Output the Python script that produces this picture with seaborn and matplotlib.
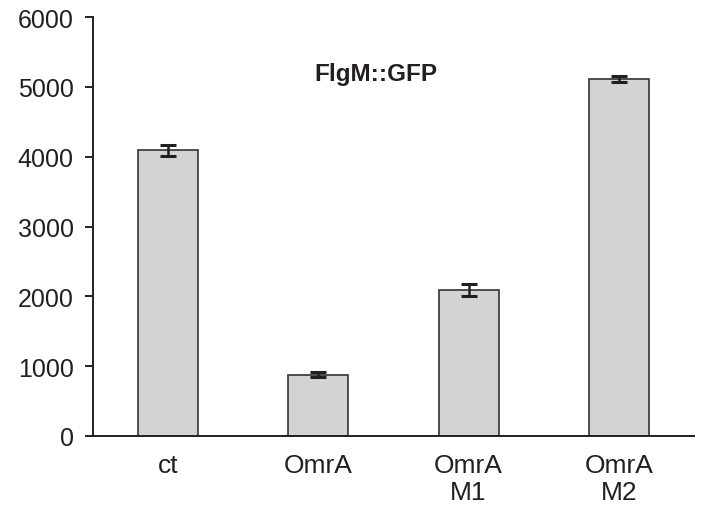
import matplotlib
matplotlib.use("Agg")
import matplotlib.pyplot as plt
import seaborn as sns
import pandas as pd

# values
categories = ["ct", "OmrA", "OmrA\nM1", "OmrA\nM2"]
values = [4090, 880, 2090, 5110]
errors = [80, 30, 85, 40]
yticks = [0, 1000, 2000, 3000, 4000, 5000, 6000]

sns.set_theme(style="white")
plt.rcParams["font.family"] = ["Liberation Sans", "DejaVu Sans"]

df = pd.DataFrame({"group": categories, "value": values})

fig = plt.figure(figsize=(7.03, 5.06), dpi=100)
ax = fig.add_axes([93 / 703, 1 - 437 / 506, (694 - 93) / 703, (437 - 18) / 506])

sns.barplot(data=df, x="group", y="value", color="#d2d3d5", saturation=1,
            width=0.4, edgecolor="#333333", linewidth=1.2, errorbar=None, ax=ax)
ax.errorbar(range(len(values)), values, yerr=errors, fmt="none",
            ecolor="#231f20", elinewidth=1.8, capsize=5.5, capthick=2.2)

ax.set_ylim(0, 6000)
ax.set_xlim(-0.5, len(categories) - 0.5)
ax.set_yticks(yticks)
ax.set_xlabel("")
ax.set_ylabel("")

for side in ("top", "right"):
    ax.spines[side].set_visible(False)
for side in ("left", "bottom"):
    ax.spines[side].set_color("#231f20")
    ax.spines[side].set_linewidth(1.4)

ax.tick_params(axis="y", direction="out", length=6, width=1.4, color="#231f20",
               labelsize=18, labelcolor="#231f20", pad=8, left=True)
ax.tick_params(axis="x", length=0, labelsize=19, labelcolor="#231f20", pad=12)
for lbl in ax.get_xticklabels():
    lbl.set_linespacing(1.15)

ax.text(1.38, 5190, "FlgM::GFP", fontsize=17.5, fontweight="bold",
        color="#231f20", ha="center", va="center")

plt.savefig("out.png", dpi=100)
plt.close()
